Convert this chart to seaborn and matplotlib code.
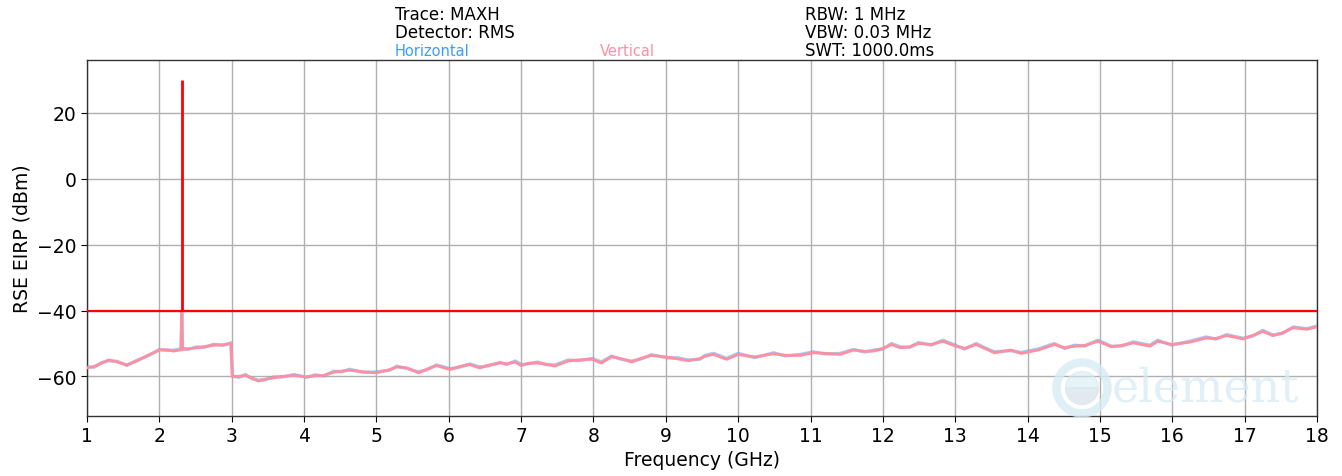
import numpy as np
import pandas as pd
import matplotlib
matplotlib.use("Agg")
import matplotlib.pyplot as plt
from matplotlib.patches import Circle, Wedge
import seaborn as sns

# values (GHz, dBm)
freq_ghz = [1.00, 1.10, 1.20, 1.30, 1.42, 1.55, 1.70, 1.87, 2.00, 2.10, 2.20, 2.30, 2.31, 2.32,
            2.40, 2.52, 2.62, 2.75, 2.88, 2.99, 3.01, 3.10, 3.19, 3.28, 3.37, 3.47, 3.58, 3.70,
            3.86, 4.04, 4.15, 4.27, 4.41, 4.52, 4.63, 4.82, 5.00, 5.19, 5.28, 5.42, 5.58, 5.70,
            5.83, 6.02, 6.15, 6.29, 6.43, 6.55, 6.71, 6.80, 6.92, 7.00, 7.10, 7.23, 7.35, 7.47,
            7.65, 7.80, 7.98, 8.11, 8.25, 8.38, 8.53, 8.66, 8.80, 9.03, 9.15, 9.31, 9.47, 9.54,
            9.66, 9.84, 10.00, 10.23, 10.49, 10.65, 10.86, 11.04, 11.20, 11.41, 11.59, 11.75,
            11.87, 12.00, 12.12, 12.24, 12.37, 12.49, 12.67, 12.83, 12.99, 13.13, 13.29, 13.42,
            13.54, 13.77, 13.91, 14.14, 14.37, 14.51, 14.65, 14.79, 14.97, 15.16, 15.30, 15.46,
            15.69, 15.80, 15.99, 16.24, 16.47, 16.60, 16.75, 16.98, 17.12, 17.25, 17.39, 17.52,
            17.67, 17.86, 18.00]

vertical_dbm = [-57.4, -57.0, -56.0, -55.0, -55.6, -56.5, -55.2, -53.3, -52.0, -51.9, -52.3, -51.9, -40.5, -51.8,
                -51.6, -51.3, -51.0, -50.5, -50.4, -50.0, -60.1, -60.0, -59.7, -60.5, -61.4, -60.8, -60.4, -60.0,
                -59.7, -60.1, -59.8, -59.7, -58.7, -58.4, -58.1, -58.6, -58.9, -57.9, -57.1, -57.4, -58.9, -57.8,
                -56.7, -57.9, -57.0, -56.4, -57.4, -56.6, -55.9, -56.2, -55.6, -56.7, -56.0, -55.9, -56.3, -56.8,
                -55.3, -55.0, -54.8, -55.9, -54.0, -54.6, -55.6, -54.5, -53.6, -54.2, -54.6, -55.2, -54.6, -53.9,
                -53.3, -54.8, -53.3, -54.1, -53.1, -53.6, -53.6, -52.8, -53.0, -53.3, -52.0, -52.4,
                -52.3, -51.5, -50.3, -51.3, -51.0, -50.0, -50.3, -49.3, -50.7, -51.5, -50.3, -51.6,
                -52.8, -52.0, -53.0, -52.0, -50.3, -51.3, -50.8, -50.6, -49.3, -51.0, -50.6, -49.8,
                -50.8, -49.3, -50.3, -49.6, -48.3, -48.5, -47.6, -48.6, -47.5, -46.3, -47.6, -46.8,
                -45.2, -45.7, -44.9]

horizontal_dbm = [-57.1, -57.2, -55.8, -55.3, -55.4, -56.7, -55.0, -53.5, -51.8, -52.1, -52.0, -51.6, -40.0, -51.5,
                  -51.8, -51.0, -51.2, -50.2, -50.6, -49.8, -59.8, -60.3, -59.4, -60.7, -61.1, -61.0, -60.1, -60.2,
                  -59.4, -60.3, -59.5, -59.9, -58.4, -58.6, -57.8, -58.8, -58.6, -58.1, -56.9, -57.6, -58.6, -58.0,
                  -56.5, -57.6, -57.2, -56.2, -57.1, -56.8, -55.7, -56.4, -55.3, -56.4, -56.2, -55.6, -56.5, -56.5,
                  -55.0, -55.2, -54.5, -55.6, -53.8, -54.8, -55.3, -54.7, -53.4, -54.4, -54.3, -55.0, -54.8, -53.6,
                  -53.0, -54.5, -53.0, -54.3, -52.8, -53.8, -53.3, -52.5, -53.2, -53.0, -51.8, -52.6,
                  -52.0, -51.7, -50.0, -51.0, -51.2, -49.7, -50.5, -49.0, -50.4, -51.7, -50.0, -51.4,
                  -52.5, -52.2, -52.7, -51.7, -50.0, -51.5, -50.5, -50.8, -49.0, -50.8, -50.8, -49.5,
                  -50.5, -49.0, -50.5, -49.3, -48.0, -48.7, -47.3, -48.4, -47.7, -46.0, -47.4, -47.0,
                  -45.0, -45.5, -44.7]

fundamental_ghz = 2.313
fundamental_dbm = 30
limit_dbm = -40

header_left = ["Trace: MAXH", "Detector: RMS"]
header_right = ["RBW: 1 MHz", "VBW: 0.03 MHz", "SWT: 1000.0ms"]

df = pd.DataFrame({"freq": freq_ghz, "h": horizontal_dbm, "v": vertical_dbm})

sns.set_style("ticks")
plt.rcParams["font.family"] = ["DejaVu Sans"]
plt.rcParams["text.color"] = "black"
plt.rcParams["axes.labelcolor"] = "black"
plt.rcParams["xtick.color"] = "black"
plt.rcParams["ytick.color"] = "black"

fig = plt.figure(figsize=(13.42, 4.77), dpi=100)
ax = fig.add_axes([0.0648, 0.1258, 0.9166, 0.7463])

blue = "#3d9cff"
pink = "#ff8fa3"

sns.lineplot(data=df, x="freq", y="h", ax=ax, color=blue, lw=2.3, alpha=0.5, sort=False, estimator=None, zorder=3)
sns.lineplot(data=df, x="freq", y="v", ax=ax, color=pink, lw=2.1, sort=False, estimator=None, zorder=4)

ax.axhline(limit_dbm, color="#ff0000", lw=1.6, zorder=5)
ax.vlines(fundamental_ghz, limit_dbm, fundamental_dbm, color="#ff0000", lw=2, zorder=5)

ax.set_xlim(1, 18)
ax.set_ylim(-72, 36)
ax.set_xticks(range(1, 19))
ax.set_yticks([-60, -40, -20, 0, 20])
ax.grid(True, color="#b0b0b0", lw=1)
ax.tick_params(labelsize=13.5, length=4, color="black")
for s in ax.spines.values():
    s.set_color("#333333")
    s.set_linewidth(1)
ax.set_xlabel("Frequency (GHz)", fontsize=13.5, labelpad=3)
ax.set_ylabel("RSE EIRP (dBm)", fontsize=13.5)

# header text
for i, t in enumerate(header_left):
    fig.text(395 / 1342, 1 - (15 + 18 * i) / 477, t, fontsize=12, va="center")
for i, t in enumerate(header_right):
    fig.text(805 / 1342, 1 - (15 + 18 * i) / 477, t, fontsize=12, va="center")
fig.text(395 / 1342, 1 - 51 / 477, "Horizontal", fontsize=10.5, va="center", color=blue)
fig.text(600 / 1342, 1 - 51 / 477, "Vertical", fontsize=10.5, va="center", color=pink)

# watermark logo
wm = "#d6ebf3"
cx, cy = 1082 / 1342, 1 - 389 / 477
ax_logo = fig.add_axes([cx - 30 / 1342, cy - 30 / 477, 60 / 1342, 60 / 477])
ax_logo.set_xlim(-1, 1)
ax_logo.set_ylim(-1, 1)
ax_logo.set_aspect("equal")
ax_logo.axis("off")
ax_logo.add_patch(Circle((0, 0), 0.85, fill=False, ec=wm, lw=6, alpha=0.8))
ax_logo.add_patch(Wedge((0, 0), 0.55, 180, 360, color="#dde5ec", alpha=0.8))
ax_logo.add_patch(Wedge((0, 0), 0.55, 0, 180, color=wm, alpha=0.6))
fig.text(1112 / 1342, cy, "element", fontsize=33, family="DejaVu Serif", color=wm,
         va="center", alpha=0.75)

fig.savefig("out.png", dpi=100)
